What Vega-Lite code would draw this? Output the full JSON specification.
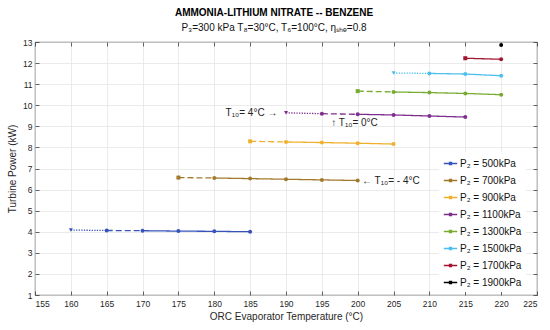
{
  "$schema": "https://vega.github.io/schema/vega-lite/v6.json",
  "width": 502,
  "height": 253,
  "autosize": {"type": "none"},
  "padding": {"left": 35, "top": 42, "right": 13, "bottom": 35},
  "background": "white",
  "config": {
    "font": "Liberation Sans",
    "view": {"stroke": "#262626", "strokeWidth": 0.8}
  },
  "title": {
    "text": "AMMONIA-LITHIUM NITRATE -- BENZENE",
    "subtitle": "P₃=300 kPa T₈=30°C, T₆=100°C, ηₛₕₑ=0.8",
    "fontSize": 10,
    "fontWeight": "bold",
    "color": "#000000",
    "subtitleFontSize": 10,
    "subtitleColor": "#111111",
    "subtitlePadding": 5,
    "offset": 5,
    "dx": -12,
    "anchor": "middle"
  },
  "datasets": {
    "points": [
      {"p": "P₂ = 500kPa", "t": 160, "w": 4.08, "kind": "first"},
      {"p": "P₂ = 500kPa", "t": 165, "w": 4.06, "kind": "mid"},
      {"p": "P₂ = 500kPa", "t": 170, "w": 4.05, "kind": "mid"},
      {"p": "P₂ = 500kPa", "t": 175, "w": 4.03, "kind": "mid"},
      {"p": "P₂ = 500kPa", "t": 180, "w": 4.02, "kind": "mid"},
      {"p": "P₂ = 500kPa", "t": 185, "w": 4.0, "kind": "mid"},
      {"p": "P₂ = 700kPa", "t": 175, "w": 6.57, "kind": "start"},
      {"p": "P₂ = 700kPa", "t": 180, "w": 6.55, "kind": "mid"},
      {"p": "P₂ = 700kPa", "t": 185, "w": 6.52, "kind": "mid"},
      {"p": "P₂ = 700kPa", "t": 190, "w": 6.49, "kind": "mid"},
      {"p": "P₂ = 700kPa", "t": 195, "w": 6.46, "kind": "mid"},
      {"p": "P₂ = 700kPa", "t": 200, "w": 6.43, "kind": "mid"},
      {"p": "P₂ = 900kPa", "t": 185, "w": 8.29, "kind": "start"},
      {"p": "P₂ = 900kPa", "t": 190, "w": 8.26, "kind": "mid"},
      {"p": "P₂ = 900kPa", "t": 195, "w": 8.23, "kind": "mid"},
      {"p": "P₂ = 900kPa", "t": 200, "w": 8.2, "kind": "mid"},
      {"p": "P₂ = 900kPa", "t": 205, "w": 8.16, "kind": "mid"},
      {"p": "P₂ = 1100kPa", "t": 190, "w": 9.64, "kind": "first"},
      {"p": "P₂ = 1100kPa", "t": 195, "w": 9.6, "kind": "mid"},
      {"p": "P₂ = 1100kPa", "t": 200, "w": 9.57, "kind": "mid"},
      {"p": "P₂ = 1100kPa", "t": 205, "w": 9.54, "kind": "mid"},
      {"p": "P₂ = 1100kPa", "t": 210, "w": 9.49, "kind": "mid"},
      {"p": "P₂ = 1100kPa", "t": 215, "w": 9.44, "kind": "mid"},
      {"p": "P₂ = 1300kPa", "t": 200, "w": 10.67, "kind": "start"},
      {"p": "P₂ = 1300kPa", "t": 205, "w": 10.63, "kind": "mid"},
      {"p": "P₂ = 1300kPa", "t": 210, "w": 10.6, "kind": "mid"},
      {"p": "P₂ = 1300kPa", "t": 215, "w": 10.56, "kind": "mid"},
      {"p": "P₂ = 1300kPa", "t": 220, "w": 10.5, "kind": "mid"},
      {"p": "P₂ = 1500kPa", "t": 205, "w": 11.53, "kind": "first"},
      {"p": "P₂ = 1500kPa", "t": 210, "w": 11.51, "kind": "mid"},
      {"p": "P₂ = 1500kPa", "t": 215, "w": 11.48, "kind": "mid"},
      {"p": "P₂ = 1500kPa", "t": 220, "w": 11.4, "kind": "mid"},
      {"p": "P₂ = 1700kPa", "t": 215, "w": 12.23, "kind": "start"},
      {"p": "P₂ = 1700kPa", "t": 220, "w": 12.18, "kind": "mid"},
      {"p": "P₂ = 1900kPa", "t": 220, "w": 12.86, "kind": "mid"}
    ],
    "segments": [
      {"p": "P₂ = 500kPa", "t": 160, "t2": 165, "w": 4.08, "w2": 4.06, "seg": "dotted"},
      {"p": "P₂ = 500kPa", "t": 165, "t2": 170, "w": 4.06, "w2": 4.05, "seg": "dashed"},
      {"p": "P₂ = 500kPa", "t": 170, "t2": 175, "w": 4.05, "w2": 4.03, "seg": "solid"},
      {"p": "P₂ = 500kPa", "t": 175, "t2": 180, "w": 4.03, "w2": 4.02, "seg": "solid"},
      {"p": "P₂ = 500kPa", "t": 180, "t2": 185, "w": 4.02, "w2": 4.0, "seg": "solid"},
      {"p": "P₂ = 700kPa", "t": 175, "t2": 180, "w": 6.57, "w2": 6.55, "seg": "dashed"},
      {"p": "P₂ = 700kPa", "t": 180, "t2": 185, "w": 6.55, "w2": 6.52, "seg": "solid"},
      {"p": "P₂ = 700kPa", "t": 185, "t2": 190, "w": 6.52, "w2": 6.49, "seg": "solid"},
      {"p": "P₂ = 700kPa", "t": 190, "t2": 195, "w": 6.49, "w2": 6.46, "seg": "solid"},
      {"p": "P₂ = 700kPa", "t": 195, "t2": 200, "w": 6.46, "w2": 6.43, "seg": "solid"},
      {"p": "P₂ = 900kPa", "t": 185, "t2": 190, "w": 8.29, "w2": 8.26, "seg": "dashed"},
      {"p": "P₂ = 900kPa", "t": 190, "t2": 195, "w": 8.26, "w2": 8.23, "seg": "solid"},
      {"p": "P₂ = 900kPa", "t": 195, "t2": 200, "w": 8.23, "w2": 8.2, "seg": "solid"},
      {"p": "P₂ = 900kPa", "t": 200, "t2": 205, "w": 8.2, "w2": 8.16, "seg": "solid"},
      {"p": "P₂ = 1100kPa", "t": 190, "t2": 195, "w": 9.64, "w2": 9.6, "seg": "dotted"},
      {"p": "P₂ = 1100kPa", "t": 195, "t2": 200, "w": 9.6, "w2": 9.57, "seg": "dashed"},
      {"p": "P₂ = 1100kPa", "t": 200, "t2": 205, "w": 9.57, "w2": 9.54, "seg": "solid"},
      {"p": "P₂ = 1100kPa", "t": 205, "t2": 210, "w": 9.54, "w2": 9.49, "seg": "solid"},
      {"p": "P₂ = 1100kPa", "t": 210, "t2": 215, "w": 9.49, "w2": 9.44, "seg": "solid"},
      {"p": "P₂ = 1300kPa", "t": 200, "t2": 205, "w": 10.67, "w2": 10.63, "seg": "dashed"},
      {"p": "P₂ = 1300kPa", "t": 205, "t2": 210, "w": 10.63, "w2": 10.6, "seg": "solid"},
      {"p": "P₂ = 1300kPa", "t": 210, "t2": 215, "w": 10.6, "w2": 10.56, "seg": "solid"},
      {"p": "P₂ = 1300kPa", "t": 215, "t2": 220, "w": 10.56, "w2": 10.5, "seg": "solid"},
      {"p": "P₂ = 1500kPa", "t": 205, "t2": 210, "w": 11.53, "w2": 11.51, "seg": "dotted"},
      {"p": "P₂ = 1500kPa", "t": 210, "t2": 215, "w": 11.51, "w2": 11.48, "seg": "solid"},
      {"p": "P₂ = 1500kPa", "t": 215, "t2": 220, "w": 11.48, "w2": 11.4, "seg": "solid"},
      {"p": "P₂ = 1700kPa", "t": 215, "t2": 220, "w": 12.23, "w2": 12.18, "seg": "solid"}
    ],
    "notes": [
      {"id": "a", "t": 188.8, "w": 9.65, "label": "T₁₀= 4°C →"},
      {"id": "b", "t": 196.3, "w": 9.15, "label": "↑ T₁₀= 0°C"},
      {"id": "c", "t": 200.6, "w": 6.42, "label": "← T₁₀= - 4°C"}
    ]
  },
  "layer": [
    {
      "data": {"name": "segments"},
      "mark": {"type": "rule", "strokeWidth": 1.3},
      "encoding": {
        "x": {
          "field": "t", "type": "quantitative",
          "scale": {"domain": [155, 225], "nice": false, "zero": false},
          "axis": {
            "title": "ORC Evaporator Temperature (°C)",
            "values": [155, 160, 165, 170, 175, 180, 185, 190, 195, 200, 205, 210, 215, 220, 225],
            "grid": true, "gridColor": "#e3e3e3", "gridWidth": 0.7,
            "domain": false,
            "tickSize": -4, "tickColor": "#262626", "tickWidth": 0.7,
            "labelPadding": 8, "labelFontSize": 8.5, "labelColor": "#262626",
            "titleFontSize": 10, "titleFontWeight": "normal", "titleColor": "#262626", "titlePadding": 4
          }
        },
        "x2": {"field": "t2"},
        "y": {
          "field": "w", "type": "quantitative",
          "scale": {"domain": [1, 13], "nice": false, "zero": false},
          "axis": {
            "title": "Turbine Power (kW)",
            "values": [1, 2, 3, 4, 5, 6, 7, 8, 9, 10, 11, 12, 13],
            "grid": true, "gridColor": "#e3e3e3", "gridWidth": 0.7,
            "domain": false,
            "tickSize": -4, "tickColor": "#262626", "tickWidth": 0.7,
            "labelPadding": 7, "labelFontSize": 8.5, "labelColor": "#262626",
            "titleFontSize": 10, "titleFontWeight": "normal", "titleColor": "#262626", "titlePadding": 5
          }
        },
        "y2": {"field": "w2"},
        "color": {"field": "p", "type": "nominal"},
        "strokeDash": {
          "field": "seg", "type": "nominal",
          "scale": {"domain": ["solid", "dashed", "dotted"], "range": [[1, 0], [6, 3], [1.3, 1.3]]},
          "legend": null
        }
      }
    },
    {
      "data": {"name": "points"},
      "mark": {"type": "point", "filled": true, "opacity": 1},
      "encoding": {
        "x": {
          "field": "t", "type": "quantitative",
          "axis": {"orient": "top", "title": null, "labels": false, "grid": false, "domain": false,
                   "values": [155, 160, 165, 170, 175, 180, 185, 190, 195, 200, 205, 210, 215, 220, 225],
                   "tickSize": -4, "tickColor": "#262626", "tickWidth": 0.7}
        },
        "y": {
          "field": "w", "type": "quantitative",
          "axis": {"orient": "right", "title": null, "labels": false, "grid": false, "domain": false,
                   "values": [1, 2, 3, 4, 5, 6, 7, 8, 9, 10, 11, 12, 13],
                   "tickSize": -4, "tickColor": "#262626", "tickWidth": 0.7}
        },
        "color": {
          "field": "p", "type": "nominal",
          "scale": {
            "domain": ["P₂ = 500kPa", "P₂ = 700kPa", "P₂ = 900kPa", "P₂ = 1100kPa", "P₂ = 1300kPa", "P₂ = 1500kPa", "P₂ = 1700kPa", "P₂ = 1900kPa"],
            "range": ["#3654bb", "#a2782b", "#f0b02e", "#7e2f8e", "#77ac30", "#4dbeee", "#a2142f", "#000000"]
          },
          "legend": {
            "title": null,
            "orient": "none",
            "legendX": 404,
            "legendY": 110,
            "fillColor": "white",
            "padding": 4,
            "symbolType": "M-1,0L1,0M-0.15,-0.15L0.15,-0.15L0.15,0.15L-0.15,0.15Z",
            "symbolSize": 180,
            "symbolStrokeWidth": 1.3,
            "labelFontSize": 10,
            "labelColor": "#111111",
            "labelOffset": 2,
            "rowPadding": 4
          }
        },
        "shape": {
          "field": "kind", "type": "nominal",
          "scale": {"domain": ["first", "start", "mid"], "range": ["triangle-down", "square", "circle"]},
          "legend": null
        },
        "size": {"value": 16}
      }
    },
    {
      "data": {"name": "notes"},
      "transform": [{"filter": "datum.id == 'a'"}],
      "mark": {"type": "text", "align": "right", "baseline": "middle", "fontSize": 10, "color": "#222222"},
      "encoding": {
        "x": {"field": "t", "type": "quantitative", "axis": null},
        "y": {"field": "w", "type": "quantitative", "axis": null},
        "text": {"field": "label"}
      }
    },
    {
      "data": {"name": "notes"},
      "transform": [{"filter": "datum.id != 'a'"}],
      "mark": {"type": "text", "align": "left", "baseline": "middle", "fontSize": 10, "color": "#222222"},
      "encoding": {
        "x": {"field": "t", "type": "quantitative", "axis": null},
        "y": {"field": "w", "type": "quantitative", "axis": null},
        "text": {"field": "label"}
      }
    }
  ],
  "resolve": {"axis": {"x": "independent", "y": "independent"}}
}
